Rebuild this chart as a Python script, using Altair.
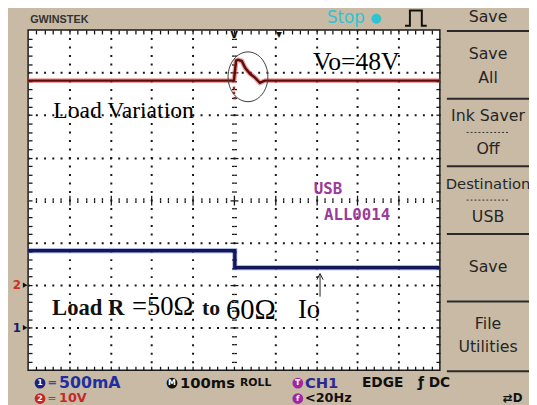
import altair as alt
import pandas as pd

# ---------------- data (time in ms, trigger at 0; level in divisions) -------------
vo_t = [-500, 0, 5, 10, 19, 27, 39, 51, 63, 75, 500]
vo_v = [2.81, 2.81, 3.28, 3.30, 3.27, 3.11, 2.97, 2.88, 2.76, 2.81, 2.81]
io_t = [-500, 2, 2, 500]
io_v = [-1.19, -1.19, -1.59, -1.59]
res_t = [0, 0, 2]
res_v = [2.64, 2.52, 2.40]

# graticule (100 ms/div horizontally, 8 divisions vertically)
major_x = [-400, -300, -200, -100, 100, 200, 300, 400]
major_y = [-3, -2, -1, 1, 2, 3]
minor_x = list(range(-480, 500, 20))
minor_y = [round(-3.8 + 0.2 * i, 1) for i in range(39)]

W, H = 418.1, 345.4
PAD = {"left": 20.4, "top": 19.3, "right": 90.5, "bottom": 32.3}
xs = alt.Scale(domain=[-500, 500], nice=False, zero=False)
ys = alt.Scale(domain=[-4, 4], nice=False, zero=False)
INK = "#151515"


def enc(xaxis=None, yaxis=None):
    return dict(x=alt.X("t:Q", scale=xs, axis=xaxis), y=alt.Y("v:Q", scale=ys, axis=yaxis))


def grid_axis(orient, values, dash):
    return alt.Axis(orient=orient, values=values, grid=True, gridColor=INK, gridWidth=2,
                    gridDash=dash, gridDashOffset=1, gridOpacity=1, ticks=False,
                    labels=False, domain=False, title=None)


def tick_axis(orient, values, offset, size):
    return alt.Axis(orient=orient, values=values, offset=offset, tickSize=size, ticks=True,
                    labels=False, domain=False, grid=False, tickColor=INK, tickWidth=1.3,
                    title=None)


cx = {"condition": {"test": "abs(datum.value) % 100 === 0", "value": 5}, "value": 2.5}
cy = {"condition": {"test": "abs(datum.value - round(datum.value)) < 0.01", "value": 4}, "value": 2.5}

vo = pd.DataFrame({"t": vo_t, "v": vo_v, "i": range(len(vo_t))})
io = pd.DataFrame({"t": io_t, "v": io_v, "i": range(len(io_t))})
res = pd.DataFrame({"t": res_t, "v": res_v})

layers = []
layers.append(alt.Chart(vo).mark_line(color="#d9534f", strokeWidth=5, opacity=0.55).encode(
    **enc(grid_axis("bottom", major_x, [2, H / 40 - 2]), grid_axis("left", major_y, [2, W / 50 - 2])),
    order="i:Q"))
layers.append(alt.Chart(vo).mark_line(color="#5e0c0c", strokeWidth=2.5).encode(
    **enc(tick_axis("top", minor_x, -4, 4), tick_axis("left", minor_y, -4, 4)), order="i:Q"))
layers.append(alt.Chart(io).mark_line(color="#4656b4", strokeWidth=5, opacity=0.55).encode(
    **enc(tick_axis("bottom", minor_x, -4, 4), tick_axis("right", minor_y, -4, 4)), order="i:Q"))
layers.append(alt.Chart(io).mark_line(color="#12175a", strokeWidth=3.3).encode(
    **enc(tick_axis("bottom", minor_x, -H / 2, cx), tick_axis("left", minor_y, -W / 2, cy)), order="i:Q"))
layers.append(alt.Chart(res).mark_point(shape="square", filled=True, size=6, color="#b02020", opacity=1).encode(
    **enc(tick_axis("top", minor_x, -H / 2, cx), tick_axis("right", minor_y, -W / 2, cy))))

# highlight ellipse around the overshoot
ell = pd.DataFrame({"t": [34], "v": [2.90]})
layers.append(alt.Chart(ell).mark_point(
    shape="M -0.8 0 A 0.8 1 0 1 1 0.8 0 A 0.8 1 0 1 1 -0.8 0 Z",
    size=2550, filled=False, stroke="#3a3a3a", strokeWidth=1, opacity=1).encode(**enc()))

# Io arrow
arr = pd.DataFrame({"t": [209], "v": [-2.27], "v2": [-1.77]})
layers.append(alt.Chart(arr).mark_rule(color="#222", strokeWidth=1).encode(**enc(), y2="v2:Q"))
layers.append(alt.Chart(pd.DataFrame({"t": [209], "v": [-1.80]})).mark_point(
    shape="M -1 1 L 0 -1 L 1 1", size=40, filled=False, stroke="#222", strokeWidth=1, opacity=1
).encode(**enc()))


def text_layer(rows, cols, **kw):
    d = pd.DataFrame(rows, columns=cols)
    e = enc()
    e["text"] = "s:N"
    if "fs" in cols:
        e["size"] = alt.Size("fs:Q", scale=None, legend=None)
    if "c" in cols:
        e["color"] = alt.Color("c:N", scale=None, legend=None)
    return alt.Chart(d).mark_text(**kw).encode(**e)


# annotations on the screen
layers.append(text_layer(
    [("Vo=48V", 192, 3.064, 26), ("Load Variation", -439, 1.941, 24),
     ("=50Ω", -247.6, -2.713, 27), ("60Ω", -19.4, -2.807, 29), ("Io", 155.3, -2.784, 27)],
    ["s", "t", "v", "fs"], font="Liberation Serif", align="left", baseline="alphabetic", color="#000"))
layers.append(text_layer(
    [("Load R", -441.7, -2.713, 23), ("to", -77.7, -2.713, 22)],
    ["s", "t", "v", "fs"], font="Liberation Serif", fontWeight="bold", align="left",
    baseline="alphabetic", color="#111"))
layers.append(text_layer(
    [("USB", 194, 0.257), ("ALL0014", 218.4, -0.351)], ["s", "t", "v"],
    font="DejaVu Sans Mono", fontWeight="bold", fontSize=16, align="left", baseline="middle",
    color="#9b3a9b"))

# right-hand menu
layers.append(text_layer(
    [("Save", 617, 4.304, 16), ("Save", 617, 3.439, 16), ("All", 617, 2.877, 16),
     ("Ink Saver", 617, 1.965, 16), ("Off", 617, 1.193, 16), ("Destination", 617, 0.374, 15),
     ("USB", 617, -0.398, 16), ("Save", 617, -1.567, 16), ("File", 617, -2.924, 16),
     ("Utilities", 617, -3.462, 16)], ["s", "t", "v", "fs"],
    font="DejaVu Sans", align="center", baseline="middle", color="#262626"))
seps = pd.DataFrame({"t": 517, "t2": 780, "v": [3.977, 2.386, 0.795, -0.795, -2.386, -4.023]})
layers.append(alt.Chart(seps).mark_rule(color="#2a2a2a", strokeWidth=2).encode(**enc(), x2="t2:Q"))
dsep = pd.DataFrame({"t": 565, "t2": 668, "v": [1.591, 0.0]})
layers.append(alt.Chart(dsep).mark_rule(color="#333", strokeWidth=1, strokeDash=[2, 2]).encode(**enc(), x2="t2:Q"))
layers.append(alt.Chart(pd.DataFrame({"t": [726], "v": [3.228]})).mark_point(
    shape="triangle-right", size=35, filled=True, color="#222", opacity=1).encode(**enc()))

# status bar
R1, R2 = -4.304, -4.667
layers.append(text_layer(
    [("═", -450, R1, "#1f2fa0", 12), ("500mA", -424.8, R1, "#1f2fa0", 16),
     ("═", -450, R2, "#c62828", 11), ("10V", -424.8, R2, "#c62828", 13),
     ("100ms", -131, R1, "#111", 15), ("ROLL", 14.6, R1, "#111", 11),
     ("CH1", 172.3, R1, "#2b2a8f", 15), ("EDGE", 310.7, R1, "#111", 14),
     ("ƒ DC", 446.6, R1, "#111", 14), ("<20Hz", 172.3, R2, "#111", 13),
     ("⇄D", 653, R2, "#111", 12)],
    ["s", "t", "v", "c", "fs"], font="DejaVu Sans", fontWeight="bold", align="left", baseline="middle"))
badges = pd.DataFrame(
    [("1", -471, R1, "#1a237e"), ("2", -471, R2, "#c62828"), ("M", -150.5, R1, "#111"),
     ("T", 155, R1, "#a0289e"), ("f", 155, R2, "#a0289e")], columns=["s", "t", "v", "c"])
layers.append(alt.Chart(badges).mark_point(shape="circle", filled=True, size=120, opacity=1).encode(
    **enc(), color=alt.Color("c:N", scale=None, legend=None)))
layers.append(alt.Chart(badges).mark_text(font="DejaVu Sans", fontWeight="bold", fontSize=8,
                                           color="white", baseline="middle").encode(**enc(), text="s:N"))

# top bar
layers.append(text_layer([("GWINSTEK", -495, 4.234)], ["s", "t", "v"],
                         font="Liberation Sans", fontWeight="bold", fontSize=11,
                         align="left", baseline="middle", color="#333"))
layers.append(text_layer([("Stop", 225.7, 4.281)], ["s", "t", "v"], font="DejaVu Sans", fontSize=17,
                         align="left", baseline="middle", color="#2ec4d4"))
layers.append(text_layer([("●", 344.7, 4.281)], ["s", "t", "v"], font="DejaVu Sans", fontSize=13,
                         align="center", baseline="middle", color="#2ec4d4"))
layers.append(alt.Chart(pd.DataFrame({"t": [441.7], "v": [4.28]})).mark_point(
    shape="M -1 0.7 L -0.55 0.7 L -0.55 -0.7 L 0.55 -0.7 L 0.55 0.7 L 1 0.7",
    size=484, filled=False, stroke="#111", strokeWidth=2, opacity=1).encode(**enc()))

# trigger markers and channel ground markers
layers.append(text_layer([("v", 0, 3.906), ("▾", 109, 3.906)], ["s", "t", "v"], font="DejaVu Sans",
                         fontWeight="bold", fontSize=12, align="center", baseline="middle", color="#111"))
layers.append(text_layer([("2", -527, -2.0, "#d03020"), ("1", -527, -3.0, "#1a1a6e")],
                         ["s", "t", "v", "c"], font="DejaVu Sans", fontWeight="bold", fontSize=12,
                         align="center", baseline="middle"))
layers.append(alt.Chart(pd.DataFrame({"t": [-507, -507], "v": [-2.0, -3.0]})).mark_point(
    shape="triangle-right", size=30, filled=True, color="#111", opacity=1).encode(**enc()))

chart = alt.layer(*layers).resolve_axis(x="independent", y="independent").properties(
    width=W, height=H,
    padding=PAD,
    autosize=alt.AutoSizeParams(type="none"),
    background="#c8baa5",
).configure_view(fill="white", stroke="#1a1a1a", strokeWidth=1.5)

chart.save("out.html", embed_options={"renderer": "svg", "actions": False})
